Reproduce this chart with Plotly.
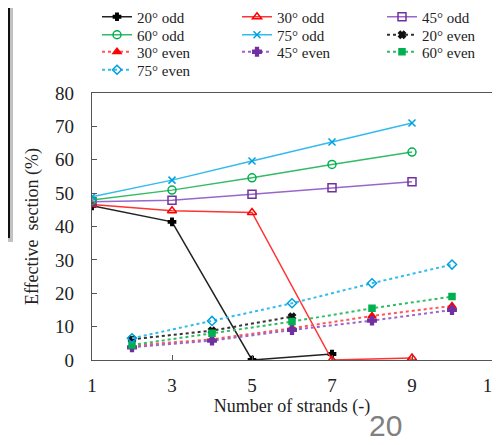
import plotly.graph_objects as go

# ---- data ----
odd_x = [1, 3, 5, 7, 9]
even_x = [2, 4, 6, 8, 10]

odd20_x = [1, 3, 5, 7]
odd20_y = [46.2, 41.4, 0.0, 1.8]
odd30_y = [46.6, 44.7, 44.2, 0.0, 0.6]
odd45_y = [47.4, 47.9, 49.7, 51.6, 53.4]
odd60_y = [47.9, 50.9, 54.6, 58.6, 62.3]
odd75_y = [48.9, 53.9, 59.6, 65.3, 71.0]

even20_x = [2, 4, 6]
even20_y = [6.2, 8.8, 13.0]
even30_y = [4.3, 6.2, 9.5, 13.2, 16.2]
even45_y = [3.8, 5.8, 9.0, 11.8, 15.0]
even60_y = [4.5, 8.0, 11.5, 15.5, 19.0]
even75_y = [6.5, 11.7, 17.0, 23.0, 28.6]

x_ticks = [1, 3, 5, 7, 9, 11]
y_ticks = [0, 10, 20, 30, 40, 50, 60, 70, 80]

SERIF = "Liberation Serif"

series = [
    ("20° odd", odd20_x, odd20_y, "#222222", "#000000", "cross", 6, "solid"),
    ("30° odd", odd_x, odd30_y, "#ff3333", "#ff0000", "triangle-up-open", 8, "solid"),
    ("45° odd", odd_x, odd45_y, "#9966cc", "#7030a0", "square-open", 8, "solid"),
    ("60° odd", odd_x, odd60_y, "#33bb66", "#00b050", "circle-open", 8, "solid"),
    ("75° odd", odd_x, odd75_y, "#33bbee", "#00a0e0", "x-thin-open", 7, "solid"),
    ("20° even", even20_x, even20_y, "#333333", "#111111", "x", 6, "dot"),
    ("30° even", even_x, even30_y, "#ff5555", "#ff0000", "triangle-up", 7, "dot"),
    ("45° even", even_x, even45_y, "#9966cc", "#7030a0", "cross", 7, "dot"),
    ("60° even", even_x, even60_y, "#33bb66", "#00b050", "square", 6, "dot"),
    ("75° even", even_x, even75_y, "#33bbee", "#00a0e0", "diamond-open", 7, "dot"),
]

# page body has an 8px default margin: the figure starts at (8, 8) on screen
OFF = 8
SCR_W, SCR_H = 500, 445
W, H = SCR_W - OFF, SCR_H - OFF
# plot area in screen pixels
PL, PR, PT, PB = 92, 492, 93, 360
L, R, T, B = PL - OFF, W - (PR - OFF), PT - OFF, H - (PB - OFF)
pw, ph = PR - PL, PB - PT

def px_x(p):
    return (p - PL) / pw

def px_y(p):
    return (PB - p) / ph

# legend grid (3 columns, row-major like the reference), screen px
col_text_x = [137, 277, 422]
row_y = [17, 35, 52, 70]

fig = go.Figure()
legend_layouts = {}
for i, (name, xs, ys, lc, mc, sym, sz, dash) in enumerate(series):
    key = "legend" if i == 0 else f"legend{i + 1}"
    fig.add_trace(go.Scatter(
        x=xs, y=ys, name=name, mode="lines+markers", legend=key,
        line=dict(color=lc, width=1.5 if dash == "solid" else 2, dash=dash),
        marker=dict(symbol=sym, size=sz, color=mc, line=dict(color=mc, width=1.5)),
    ))
    r, c = divmod(i, 3)
    legend_layouts[key] = dict(
        x=px_x(col_text_x[c] - 40), y=px_y(row_y[r]),
        xanchor="left", yanchor="middle",
        font=dict(family=SERIF, size=15, color="#222222"),
        bgcolor="rgba(0,0,0,0)", borderwidth=0,
    )

fig.update_layout(
    width=W, height=H,
    margin=dict(l=L, r=R, t=T, b=B, autoexpand=False),
    paper_bgcolor="white", plot_bgcolor="white",
    font=dict(family=SERIF, color="#222222"),
    showlegend=True,
    xaxis=dict(
        range=[1, 11], tickvals=x_ticks, ticks="inside", ticklen=5,
        showline=True, mirror=True, linecolor="#555555", linewidth=1.3,
        tickcolor="#555555", showgrid=False, zeroline=False, automargin=False,
        tickfont=dict(family=SERIF, size=19), ticklabelstandoff=8,
        ticklabeloverflow="allow",
        title=dict(text="Number of strands (-)", font=dict(family=SERIF, size=18), standoff=0),
    ),
    yaxis=dict(
        range=[0, 80], tickvals=y_ticks, ticks="inside", ticklen=5,
        showline=True, mirror=True, linecolor="#555555", linewidth=1.3,
        tickcolor="#555555", showgrid=False, zeroline=False, automargin=False,
        tickfont=dict(family=SERIF, size=19), ticklabelstandoff=13,
        ticklabeloverflow="allow",
        title=dict(text="Effective  section (%)", font=dict(family=SERIF, size=18), standoff=11),
    ),
    shapes=[
        dict(type="rect", xref="paper", yref="paper",
             x0=px_x(-10), x1=px_x(13), y0=px_y(242), y1=px_y(-10),
             line=dict(width=0), fillcolor="rgba(120,120,120,0.45)", layer="above"),
        dict(type="rect", xref="paper", yref="paper",
             x0=px_x(-10), x1=px_x(9), y0=px_y(237), y1=px_y(-10),
             line=dict(color="#111111", width=2), fillcolor="#f7f7f7", layer="above"),
    ],
    annotations=[
        dict(text="20", xref="paper", yref="paper", x=px_x(385), y=px_y(425),
             xanchor="center", yanchor="middle", showarrow=False,
             font=dict(family="Liberation Sans", size=30, color="#808080")),
    ],
)
fig.update_layout(**legend_layouts)

fig.write_html("out.html")
